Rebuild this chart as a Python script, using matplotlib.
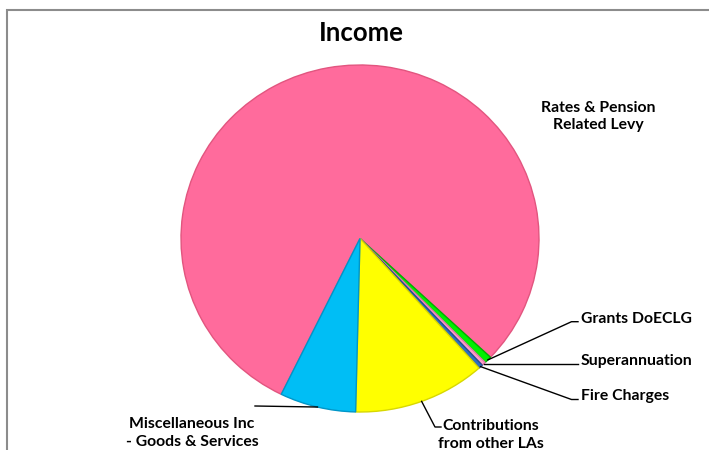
import numpy as np
import matplotlib
matplotlib.use("Agg")
import matplotlib.pyplot as plt
from matplotlib.lines import Line2D

# ---- data ----
categories = ["Rates & Pension\nRelated Levy", "Grants DoECLG", "Superannuation",
              "Fire Charges", "Contributions\nfrom other LAs",
              "Miscellaneous Inc\n- Goods & Services"]
values = [79.75, 0.67, 0.36, 0.39, 11.97, 6.86]
colors = ["#FF6B9C", "#00F000", "#FF9CC8", "#2E6FC0", "#FFFF00", "#00BEF5"]
edge_colors = ["#E2557F", "#00B000", "#E07AA8", "#1F4F90", "#D8D800", "#0096C8"]
title = "Income"

plt.rcParams['font.family'] = ['Lato', 'DejaVu Sans']

W, H = 709, 450
fig = plt.figure(figsize=(W / 100, H / 100), dpi=100)
fig.patch.set_facecolor("white")

# pie axes (slightly elliptical like the reference)
left, right, top, bottom = 181, 539, 65, 412
axp = fig.add_axes([left / W, (H - bottom) / H, (right - left) / W, (bottom - top) / H])
start = 90 - 206.1
wedges, _ = axp.pie(values, colors=colors, startangle=start, counterclock=False,
                    radius=1.0, wedgeprops=dict(linewidth=1.0))
for w, ec in zip(wedges, edge_colors):
    w.set_edgecolor(ec)
axp.set_aspect("auto")
axp.set_xlim(-1, 1)
axp.set_ylim(-1, 1)
axp.axis("off")

# overlay axes in pixel coordinates
ax = fig.add_axes([0, 0, 1, 1], facecolor="none")
ax.set_xlim(0, W)
ax.set_ylim(H, 0)
ax.axis("off")

# chart frame
ax.add_line(Line2D([7, 7, W + 5], [H + 5, 10, 10], color="#8C8C8C", lw=1.5,
                   solid_joinstyle="miter"))

ax.text(361, 41, title, ha="center", va="baseline", fontsize=18.5, fontweight="bold")


def edge_point(i):
    w = wedges[i]
    a = np.deg2rad((w.theta1 + w.theta2) / 2)
    p = axp.transData.transform((np.cos(a), np.sin(a)))
    return ax.transData.inverted().transform(p)


fs = 11.3
# label layout: (index, route points (None y = keep start y), text x, first baseline, ha)
layout = [
    (0, None, 598, 111.5, "center"),
    (1, [(571.5, 321.7), (578, 321.7)], 581, 322.7, "left"),
    (2, [(578, None)], 581, 365.5, "left"),
    (3, [(571.5, 399.5), (578, 399.5)], 581, 400, "left"),
    (4, [(435, 427), (441, 427)], 491, 430.5, "center"),
    (5, [(255, 406)], 192, 428.3, "center"),
]
line_gap = 17.8
for idx, route, tx, ty, ha in layout:
    if route is not None:
        sx, sy = edge_point(idx)
        xs = [sx] + [p[0] for p in route]
        ys = [sy] + [sy if p[1] is None else p[1] for p in route]
        ax.add_line(Line2D(xs, ys, color="black", lw=1.0))
    for k, line in enumerate(categories[idx].split("\n")):
        ax.text(tx, ty + k * line_gap, line, ha=ha, va="baseline",
                fontsize=fs, fontweight="bold", color="black")

fig.savefig("out.png", dpi=100, facecolor="white")
